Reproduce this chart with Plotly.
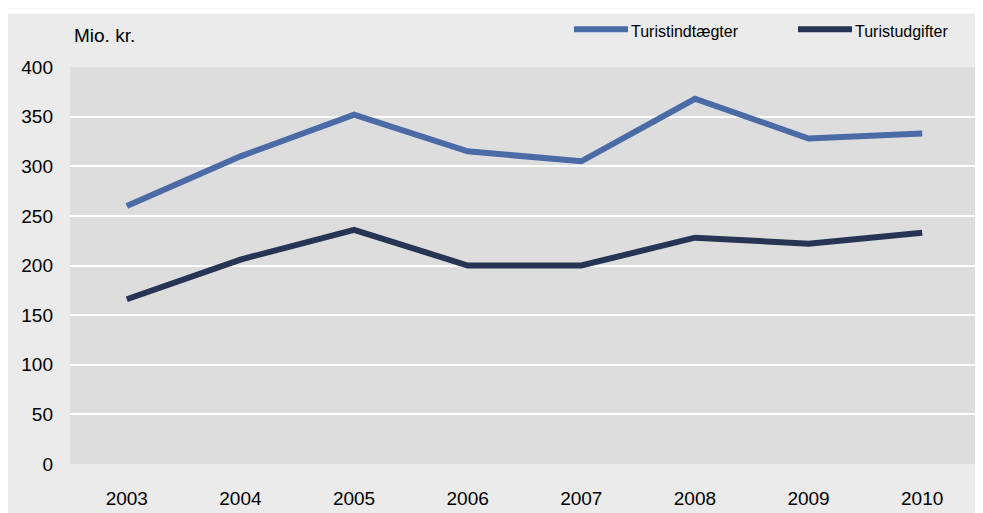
import plotly.graph_objects as go

# Turisme - indtægter og udgifter (mio. kr.)
years = ["2003", "2004", "2005", "2006", "2007", "2008", "2009", "2010"]
indtaegter = [260, 310, 352, 315, 305, 368, 328, 333]
udgifter = [166, 206, 236, 200, 200, 228, 222, 233]
y_ticks = [0, 50, 100, 150, 200, 250, 300, 350, 400]

LIGHT = "#4b6ba6"
DARK = "#263553"
FONT = "Liberation Sans, Arial, sans-serif"

# page body adds an 8px margin, so the figure is a little smaller than the window
W, H = 975, 505
L, R, T, B = 62, 4, 59, 46
pw, ph = W - L - R, H - T - B


def px_x(x):
    return (x - L) / pw


def px_y(y):
    return (H - B - y) / ph


fig = go.Figure()
fig.add_trace(go.Scatter(x=years, y=indtaegter, mode="lines", name="Turistindtægter",
                         line=dict(color=LIGHT, width=6)))
fig.add_trace(go.Scatter(x=years, y=udgifter, mode="lines", name="Turistudgifter",
                         line=dict(color=DARK, width=6)))

shapes = [
    # thin white strip above the grey panel
    dict(type="rect", xref="paper", yref="paper", x0=px_x(0), x1=px_x(W),
         y0=px_y(5), y1=px_y(0), fillcolor="white", line_width=0, layer="above"),
]
annotations = [
    dict(text="Mio. kr.", xref="paper", yref="paper", x=px_x(64), y=px_y(27),
         xanchor="left", yanchor="middle", showarrow=False,
         font=dict(family=FONT, size=19, color="black")),
]
# hand-drawn legend with long line keys
for name, color, x0 in [("Turistindtægter", LIGHT, 566), ("Turistudgifter", DARK, 790)]:
    shapes.append(dict(type="line", xref="paper", yref="paper",
                       x0=px_x(x0), x1=px_x(x0 + 54), y0=px_y(21), y1=px_y(21),
                       line=dict(color=color, width=6), layer="above"))
    annotations.append(dict(text=name, xref="paper", yref="paper", x=px_x(x0 + 55), y=px_y(23),
                            xanchor="left", yanchor="middle", showarrow=False,
                            font=dict(family=FONT, size=16, color="black")))

fig.update_layout(
    width=W, height=H,
    margin=dict(l=L, r=R, t=T, b=B),
    paper_bgcolor="#ebebeb",
    plot_bgcolor="#dddddd",
    showlegend=False,
    shapes=shapes,
    annotations=annotations,
    font=dict(family=FONT, size=19, color="black"),
)
fig.update_xaxes(type="category", range=[-0.5, 7.5], showgrid=False, zeroline=False,
                 showline=False, ticks="", ticklabelstandoff=21)
fig.update_yaxes(range=[0, 400], tickvals=y_ticks, showgrid=True, gridcolor="white",
                 gridwidth=2, zeroline=False, showline=False, ticks="", ticklabelstandoff=16)

fig.write_html("out.html")
